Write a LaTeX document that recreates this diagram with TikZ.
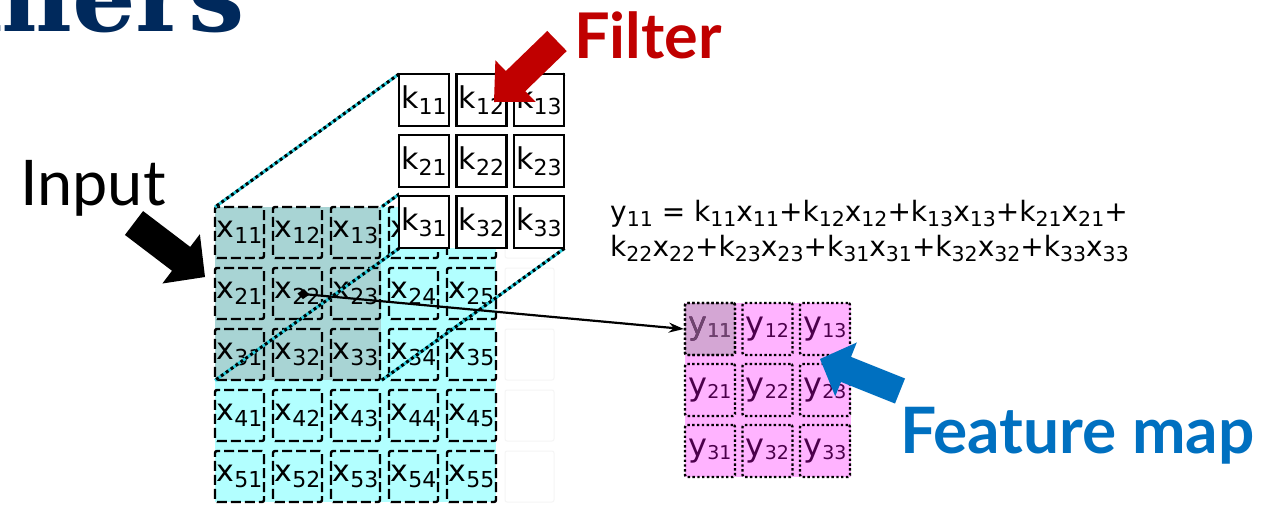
\documentclass[tikz,border=0pt]{standalone}
\usepackage{fontspec}
\setmainfont{DejaVu Sans}
\newfontfamily\lato{Lato}
\newfontfamily\titlefnt{DejaVu Serif}
\usetikzlibrary{calc,arrows.meta}
\definecolor{cyanbg}{RGB}{178,255,255}
\definecolor{tealov}{RGB}{168,212,212}
\definecolor{pinkbg}{RGB}{255,179,255}
\definecolor{ysel}{RGB}{212,166,212}
\definecolor{ytxt}{RGB}{75,0,75}
\definecolor{ytxtsel}{RGB}{110,70,110}
\definecolor{navy}{RGB}{0,41,92}
\definecolor{fred}{RGB}{192,0,0}
\definecolor{fblue}{RGB}{0,112,192}
\definecolor{projcyan}{RGB}{40,205,220}
\newcommand{\xs}[2]{{\fontsize{30}{30}\selectfont #1\raisebox{-6pt}{\fontsize{22}{22}\selectfont #2}}}
\newcommand{\ys}[2]{{\fontsize{32}{32}\selectfont #1\raisebox{-3pt}{\fontsize{19}{19}\selectfont #2}}}
\newcommand{\es}[1]{\raisebox{-5pt}{\fontsize{20.5}{20.5}\selectfont #1}}
\newcommand{\blockarrow}[6]{%
  \coordinate (#1-b) at ($(#2)!#5!(#1)$);
  \fill[#6] ($(#1)!#3!90:(#2)$) -- ($(#1-b)!#3!90:(#2)$) -- ($(#1-b)!#4!90:(#2)$) -- (#2)
    -- ($(#1-b)!#4!-90:(#2)$) -- ($(#1-b)!#3!-90:(#2)$) -- ($(#1)!#3!-90:(#2)$) -- cycle;}
\tikzset{
  xcell/.style={draw, line width=2.4pt, dash pattern=on 10pt off 4pt, rounded corners=2pt,
    minimum width=49, minimum height=51, inner sep=0},
  ghost/.style={draw=black!4, line width=1pt, rounded corners=2pt, minimum width=49, minimum height=51, inner sep=0},
  kcell/.style={draw, line width=2.4pt, fill=white, minimum width=50, minimum height=52, inner sep=0},
  ycell/.style={draw, line width=2.4pt, dash pattern=on 2.4pt off 2.4pt, rounded corners=2pt,
    minimum width=50, minimum height=52, inner sep=0, text=ytxt},
  projbase/.style={line width=3pt, projcyan},
  projdots/.style={line width=3pt, black, dash pattern=on 3pt off 3pt},
  lbl/.style={anchor=base west, inner sep=0}
}
\begin{document}
\begin{tikzpicture}[x=1pt,y=-1pt]
\clip (0,0) rectangle (1268,506);
\fill[white] (0,0) rectangle (1268,506);
% title fragment
\node[anchor=base east, inner sep=0, text=navy, font=\titlefnt\bfseries\fontsize{100}{100}\selectfont] (ttl) at (245,31) {rmers};
% input grid
\node[fill=cyanbg, anchor=north west, minimum width=281, minimum height=295, inner sep=0] (inbg) at (215,207) {};
\node[fill=tealov, anchor=north west, minimum width=166, minimum height=173, inner sep=0] (ov) at (215,207) {};
\foreach \r in {1,...,5} {
  \node[ghost] (g\r) at ({505+24.5}, {207+25.5+61*(\r-1)}) {};
  \foreach \c in {1,...,5} {
    \node[xcell] (x\r\c) at ({215+24.5+58*(\c-1)}, {207+25.5+61*(\r-1)}) {\xs{x}{\r\c}};
  }
}
% filter frame and projection lines
\node[anchor=north west, minimum width=165, minimum height=174, inner sep=0] (filt) at (399,74) {};
\foreach \a in {north west, north east, south west, south east} {
  \draw[projbase] (filt.\a) -- (ov.\a);
  \draw[projdots] (filt.\a) -- (ov.\a);
}
\fill[white] (filt.north west) rectangle (filt.south east);
\foreach \r in {1,2,3} {
  \foreach \c in {1,2,3} {
    \node[kcell] (k\r\c) at ({399+25+57.5*(\c-1)}, {74+26+61*(\r-1)}) {\xs{k}{\r\c}};
  }
}
% output grid
\node[fill=pinkbg, anchor=north west, minimum width=166, minimum height=174, inner sep=0] (outbg) at (685,303) {};
\fill[ysel, rounded corners=2pt] (685,303) rectangle (735,355);
\foreach \r in {1,2,3} {
  \foreach \c in {1,2,3} {
    \node[ycell] (y\r\c) at ({685+25+57.5*(\c-1)}, {303+26+61*(\r-1)}) {\ys{y}{\r\c}};
  }
}
\node[ycell, text=ytxtsel] at (y11) {\ys{y}{11}};
% connector
\draw[line width=2.2pt, {Diamond[length=12pt,width=10pt]}-{Stealth[length=15pt,width=10pt]}] (x22.center) -- (y11.west);
% equation
\node[lbl] (eq1) at (610,221) {\fontsize{28}{28}\selectfont y\es{11} = k\es{11}x\es{11}+k\es{12}x\es{12}+k\es{13}x\es{13}+k\es{21}x\es{21}+};
\node[lbl] (eq2) at (610,256) {\fontsize{28}{28}\selectfont k\es{22}x\es{22}+k\es{23}x\es{23}+k\es{31}x\es{31}+k\es{32}x\es{32}+k\es{33}x\es{33}};
% labels
\node[lbl, font=\lato\fontsize{63}{63}\selectfont] (inp) at (20,205) {Input};
\node[lbl, text=fred, font=\lato\bfseries\fontsize{63}{63}\selectfont] (filtlbl) at (574,58) {Filter};
\node[lbl, text=fblue, font=\lato\bfseries\fontsize{64}{64}\selectfont] (fmlbl) at (900,453) {Feature map};
% block arrows
\coordinate (ia-t) at (134,223); \coordinate (ia-p) at (205,277);
\blockarrow{ia-t}{ia-p}{15pt}{31pt}{30pt}{black}
\coordinate (ra-t) at (557,41); \coordinate (ra-p) at (494,102);
\blockarrow{ra-t}{ra-p}{14pt}{29pt}{30pt}{fred}
\coordinate (ba-t) at (900,391); \coordinate (ba-p) at (820,359);
\blockarrow{ba-t}{ba-p}{13.5pt}{29pt}{28pt}{fblue}
\end{tikzpicture}
\end{document}
